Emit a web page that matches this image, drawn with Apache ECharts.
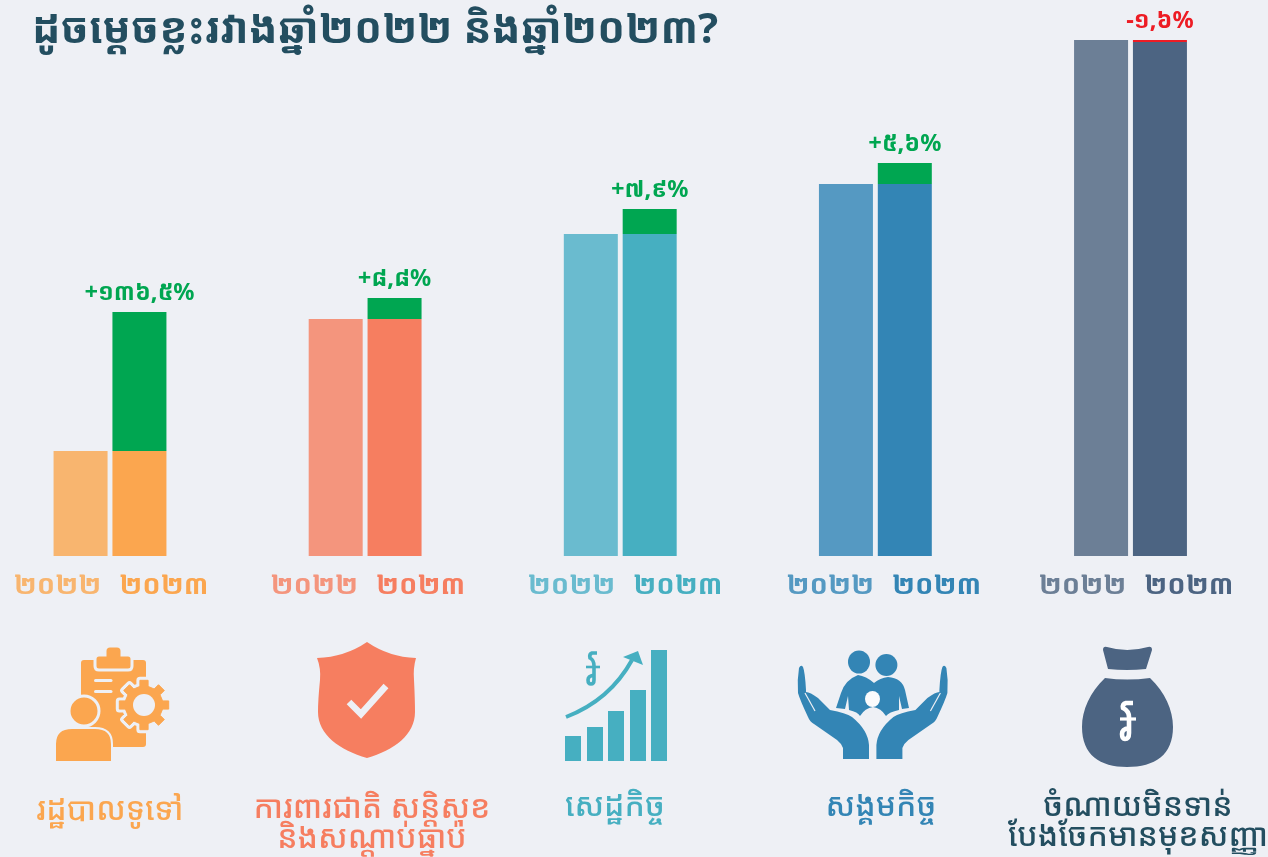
<!DOCTYPE html>
<html><head><meta charset="utf-8">
<style>html,body{margin:0;padding:0;background:#EEF0F5}#c{width:1268px;height:857px}</style>
<script src="https://cdn.jsdelivr.net/npm/echarts@6/dist/echarts.min.js"></script></head>
<body><div id="c"></div>
<script>
const titleText = 'ដូចម្តេចខ្លះរវាងឆ្នាំ២០២២ និងឆ្នាំ២០២៣?';
const categories = ['រដ្ឋបាលទូទៅ', 'ការពារជាតិ សន្តិសុខ\nនិងសណ្តាប់ធ្នាប់', 'សេដ្ឋកិច្ច', 'សង្គមកិច្ច', 'ចំណាយមិនទាន់\nបែងចែកមានមុខសញ្ញា'];
const yearLabels = ['២០២២', '២០២៣'];
const values2022 = [105, 237, 322, 372, 516];
const values2023 = [244, 258, 347, 393, 514];
const changeLabels = ['+១៣៦,៥%', '+៨,៨%', '+៧,៩%', '+៥,៦%', '-១,៦%'];
const colors2022 = ['#F8B56F', '#F4957D', '#6ABBCF', '#5599C2', '#6C7F96'];
const colors2023 = ['#FBA64F', '#F67E60', '#46AFC1', '#3385B5', '#4C6482'];
const UP = '#00A651', DOWN = '#ED1C24', BG = '#EEF0F5', TITLE = '#234E60';
const FONT = '"Noto Sans Khmer","Khmer OS Battambang","Khmer OS","Noto Sans","DejaVu Sans",sans-serif';

const chart = echarts.init(document.getElementById('c'));
const labelPad = [2, 5.5, 9.5, 17, 11];
const rich = {};
colors2022.forEach((c, i) => {
  rich['a' + i] = {color: c, fontSize: 27.5, fontFamily: FONT, fontWeight: 'bold', padding: [0, 0, 0, labelPad[i]]};
  rich['b' + i] = {color: colors2023[i], fontSize: 27.5, fontFamily: FONT, fontWeight: 'bold', padding: [0, 0, 0, 18]};
});
const base = values2023.map((v, i) => Math.min(v, values2022[i]));
const diff = values2023.map((v, i) => Math.abs(v - values2022[i]));

function gear(cx, cy, R, r, n) {
  let d = '';
  for (let k = 0; k < n; k++) {
    const a = k * 2 * Math.PI / n, w = Math.PI / n * 0.55, w2 = Math.PI / n * 0.42;
    const p = [[r, a - w], [R, a - w2], [R, a + w2], [r, a + w]];
    p.forEach(([q, t], j) => {
      d += (k === 0 && j === 0 ? 'M' : 'L') + (cx + q * Math.cos(t)).toFixed(1) + ' ' + (cy + q * Math.sin(t)).toFixed(1);
    });
  }
  return d + 'Z';
}
const ell = (cx, cy, rx, ry) => `M${cx - rx} ${cy}A${rx} ${ry} 0 1 0 ${cx + rx} ${cy}A${rx} ${ry} 0 1 0 ${cx - rx} ${cy}Z`;
const P = (d, fill, extra) => Object.assign({type: 'path', silent: true, shape: {pathData: d}, style: {fill}}, extra || {});
const S = (d, stroke, lineWidth, lineCap) => ({type: 'path', silent: true, shape: {pathData: d}, style: {fill: 'none', stroke, lineWidth, lineCap: lineCap || 'butt'}});
const P2 = (d, fill) => ({type: 'path', silent: true, shape: {pathData: d}, style: {fill, stroke: BG, lineWidth: 3}});
const c1 = colors2023[0], c2 = colors2023[1], c3 = colors2023[2], c4 = colors2023[3], c5 = colors2023[4];
const leftHand = 'M843 759L843 748Q841 743 837 740L814 724Q810 722 808 717Q800 700 798 693Q797 680 799 668Q801 664 803 667Q805 672 806 690L806 692Q810 692 818 698Q824 704 830 710Q846 713 852 717Q868 730 869 745L869 759Z';

const icons = [
  P('M84 660H143Q146 660 146 663V744Q146 747 143 747H84Q81 747 81 744V663Q81 660 84 660Z', c1),
  P2('M105 655V651Q105 646 110 646H117Q122 646 122 651V655H128Q132 655 132 659V666Q132 670 128 670H99Q95 670 95 666V659Q95 655 99 655Z', c1),
  S('M95.5 680.5H111', BG, 3, 'round'),
  S('M95.5 691.5H111', BG, 3, 'round'),
  {type: 'path', silent: true, shape: {pathData: gear(144, 705, 25, 19, 8)}, style: {fill: c1, stroke: BG, lineWidth: 7, lineJoin: 'round'}},
  {type: 'path', silent: true, shape: {pathData: gear(144, 705, 25, 19, 8)}, style: {fill: c1, stroke: c1, lineWidth: 1, lineJoin: 'round'}},
  P(ell(144, 705, 11, 11), BG),
  P2(ell(84, 711, 15, 15), c1),
  {type: 'path', silent: true, shape: {pathData: 'M55 762V744Q55 728 72 728H95Q112 728 112 744V762Z'}, style: {fill: c1, stroke: BG, lineWidth: 2}},

  P('M367 642Q345 657 317 658Q321 668 320 680Q318 700 318 712C318 735 340 750 367 758C394 750 415 735 415 712Q415 700 414 680Q413 668 416 658Q389 657 367 642Z', c2),
  S('M349 702L361 714L386 686', BG, 6.5),

  P('M565 736H581V761H565ZM587 727H603V761H587ZM608 711H624V761H608ZM630 690H646V761H630ZM651 650H667V761H651Z', c3),
  S('M566 717Q610 700 632 660', c3, 4),
  P('M638 651L623 657L643 665Z', c3),
  S('M597 653H592Q589 654 590 658Q594 660 594 666V680Q594 684 591 684Q588 684 588 680Q588 676 594 675', c3, 3.6),
  S('M586 667H600', c3, 2.6),

  P(ell(859, 662, 11, 11.5), c4),
  P(ell(886.4, 665, 11, 11), c4),
  P('M858 675Q845 680 841 693L836 708L845 709L848 696L849 710Q858 712 860 716Q865 708 873 707Q881 708 886 716Q889 712 899 710L899 696L902 709L909 708L905 690Q902 678 888 677Q880 678 874 683Q866 676 858 675Z', c4),
  P(ell(872.5, 699, 7.5, 8), '#FAFBFC'),
  P(leftHand, c4),
  S('M805 693L815 711', BG, 1.2),
  P(leftHand, c4, {x: 1745.4, scaleX: -1}),
  S('M940.4 693L930.4 711', BG, 1.2),

  P('M1103 650Q1103 646 1107 647Q1127 653 1148 647Q1152 646 1152 650L1146 669Q1127 671 1108 669Z', c5),
  P('M1105 678Q1127 681 1150 678C1165 692 1173 710 1173 727C1173 755 1155 767 1127 767C1100 767 1082 755 1082 727C1082 710 1090 692 1105 678Z', c5),
  S('M1133 703H1126Q1122 704 1123 708Q1129 711 1129 717V733Q1129 739 1125 739Q1122 739 1122 734Q1122 729 1129 728', '#FFFFFF', 4.6),
  S('M1120 719H1136', '#FFFFFF', 3.2)
];

const nameX = [110, 372, 615, 881, 1138];
const nameY = [811, 824, 807, 807, 822];
const nameColors = [colors2023[0], colors2023[1], colors2023[2], colors2023[3], TITLE];
const names = categories.map((t, i) => ({
  type: 'text', silent: true, x: nameX[i], y: nameY[i],
  style: {text: t, fill: nameColors[i], font: '500 31.5px ' + FONT, textAlign: 'center', textVerticalAlign: 'middle', lineHeight: 30}
}));

chart.setOption({
  backgroundColor: BG,
  animation: false,
  title: {text: titleText, left: 27, top: 5, textStyle: {color: TITLE, fontSize: 42, fontFamily: FONT, fontWeight: 'bold'}},
  grid: {left: 110, right: 137.5, top: 40, bottom: 301},
  xAxis: {
    type: 'category', data: categories, boundaryGap: false,
    axisLine: {show: false}, axisTick: {show: false},
    axisLabel: {
      margin: 16, interval: 0, rich, color: TITLE, alignMinLabel: 'center', alignMaxLabel: 'center',
      formatter: (v, i) => `{a${i}|${yearLabels[0]}}{b${i}|${yearLabels[1]}}`
    }
  },
  yAxis: {type: 'value', min: 0, max: 516, show: false, splitLine: {show: false}},
  series: [
    {name: yearLabels[0], type: 'bar', stack: 'y22', barWidth: 54, barGap: '9%',
     data: values2022.map((v, i) => ({value: v, itemStyle: {color: colors2022[i]}}))},
    {name: yearLabels[1], type: 'bar', stack: 'y23', barWidth: 54,
     data: base.map((v, i) => ({value: v, itemStyle: {color: colors2023[i]}}))},
    {name: 'change', type: 'bar', stack: 'y23', barWidth: 54,
     data: diff.map((v, i) => {
       const up = values2023[i] >= values2022[i];
       return {value: v, itemStyle: {color: up ? UP : DOWN}, label: {color: up ? UP : DOWN}};
     }),
     label: {show: true, position: 'top', distance: 7, fontSize: 23.5, fontWeight: 'bold', fontFamily: FONT,
       formatter: p => changeLabels[p.dataIndex]}},
    {type: 'custom', coordinateSystem: 'none', silent: true, data: [0], clip: false,
     renderItem: () => ({type: 'group', children: icons})}
  ],
  graphic: {elements: names}
});
</script></body></html>
